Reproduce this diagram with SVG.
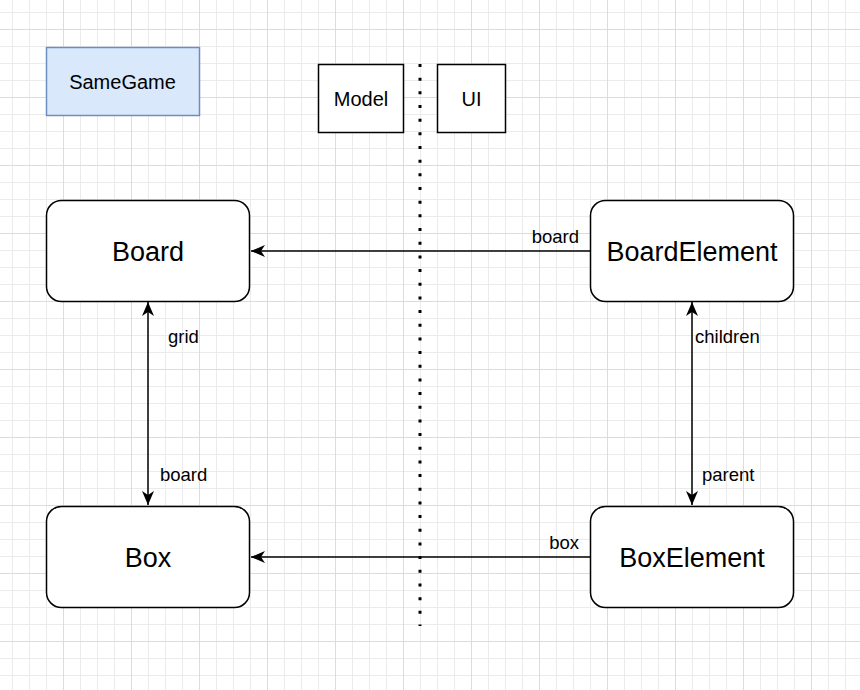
<svg xmlns="http://www.w3.org/2000/svg" width="860" height="690" viewBox="0 0 860 690">
<defs>
<pattern id="minor" width="17" height="17" patternUnits="userSpaceOnUse" x="12" y="12">
<path d="M0.5,0 V17 M0,0.5 H17" fill="none" stroke="#ebebeb" stroke-width="1"/>
</pattern>
<pattern id="major" width="68" height="68" patternUnits="userSpaceOnUse" x="63" y="29">
<path d="M0.5,0 V68 M0,0.5 H68" fill="none" stroke="#dcdcdc" stroke-width="1"/>
</pattern>
<marker id="arr" markerUnits="userSpaceOnUse" markerWidth="16" markerHeight="14" viewBox="-15 -7 16 14" refX="0" refY="0" orient="auto-start-reverse">
<path d="M0,0 L-14,-6 L-10,0 L-14,6 Z" fill="#000"/>
</marker>
<style>
.node{fill:#fff;stroke:#000;stroke-width:1.5}
.t{font-family:"Liberation Sans",Arial,sans-serif;fill:#000;text-anchor:middle}
.big{font-size:27px}
.mid{font-size:20px}
.lbl{font-family:"Liberation Sans",Arial,sans-serif;font-size:18.5px;fill:#000}
.edge{fill:none;stroke:#000;stroke-width:1.5}
</style>
</defs>
<rect width="860" height="690" fill="#fff"/>
<rect width="860" height="690" fill="url(#minor)"/>
<rect width="860" height="690" fill="url(#major)"/>

<g id="divider">
<line x1="420" y1="64" x2="420" y2="626" stroke="#000" stroke-width="3" stroke-dasharray="3 10.67"/>
</g>

<g id="samegame">
<rect x="46.5" y="47.5" width="153" height="68" fill="#dae8fc" stroke="#6c8ebf" stroke-width="1.5"/>
<text class="t mid" x="122.5" y="89">SameGame</text>
</g>
<g id="model">
<rect class="node" x="318.5" y="64.5" width="85" height="68"/>
<text class="t mid" x="361" y="105.5">Model</text>
</g>
<g id="ui">
<rect class="node" x="437.5" y="64.5" width="68" height="68"/>
<text class="t mid" x="471.5" y="105.5">UI</text>
</g>

<g id="board">
<rect class="node" x="46.5" y="200.5" width="203" height="101" rx="15"/>
<text class="t big" x="148" y="260.5">Board</text>
</g>
<g id="boardelement">
<rect class="node" x="590.5" y="200.5" width="203" height="101" rx="15"/>
<text class="t big" x="692" y="260.5">BoardElement</text>
</g>
<g id="box">
<rect class="node" x="46.5" y="506.5" width="203" height="101" rx="15"/>
<text class="t big" x="148" y="566.5">Box</text>
</g>
<g id="boxelement">
<rect class="node" x="590.5" y="506.5" width="203" height="101" rx="15"/>
<text class="t big" x="692" y="566.5">BoxElement</text>
</g>

<g id="connectors">
<line class="edge" x1="590" y1="251" x2="251" y2="251" marker-end="url(#arr)"/>
<text class="lbl" x="579" y="243" text-anchor="end">board</text>
<line class="edge" x1="590" y1="557" x2="251" y2="557" marker-end="url(#arr)"/>
<text class="lbl" x="579" y="549" text-anchor="end">box</text>
<line class="edge" x1="148" y1="302" x2="148" y2="505" marker-start="url(#arr)" marker-end="url(#arr)"/>
<text class="lbl" x="168" y="343">grid</text>
<text class="lbl" x="160" y="481">board</text>
<line class="edge" x1="692" y1="302" x2="692" y2="505" marker-start="url(#arr)" marker-end="url(#arr)"/>
<text class="lbl" x="695" y="343">children</text>
<text class="lbl" x="702" y="481">parent</text>
</g>
</svg>
